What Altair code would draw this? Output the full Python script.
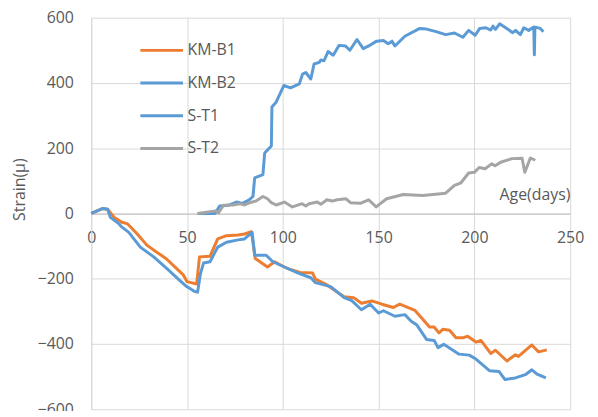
import altair as alt
import pandas as pd

series_names = ["KM-B1", "KM-B2", "S-T1", "S-T2"]
series_colors = ["#ED7D31", "#5B9BD5", "#5B9BD5", "#A5A5A5"]

kmb1_x = [0, 5.8, 8.5, 12, 16, 19, 24, 29, 34, 39, 44.6, 48, 50, 55, 56.5, 62, 66, 70.6, 76.7, 80, 83.6,
          85.6, 92, 95.7, 100.8, 102.6, 109, 115.5, 117, 123, 132, 137, 141, 146.5, 151.7, 157.7, 161, 169,
          176.6, 179, 181.5, 183.5, 187, 190.4, 194, 196.5, 200.8, 203.4, 208.5, 211, 217, 221.4, 223, 230,
          233.5, 237.8]
kmb1_y = [0, 15, 13, -12, -27, -32, -63, -97, -118, -138, -169, -188, -209, -216, -133, -131, -78, -68, -66,
          -63, -56, -138, -164, -148, -164, -169, -181, -182, -201, -219, -255, -258, -275, -268, -278, -288,
          -278, -297, -348, -348, -366, -355, -358, -381, -381, -376, -394, -389, -429, -419, -452, -433, -438,
          -403, -424, -418]

kmb2_x = [0, 5.8, 8.5, 10, 14.5, 16, 19.6, 25.6, 32.6, 39.5, 46, 49.8, 54, 55.5, 57, 58.6, 62, 66, 70.6,
          76.7, 80, 84, 85.3, 91.3, 94.8, 100.8, 107.7, 114.6, 117, 125, 132, 136, 141, 145.6, 150, 152.5,
          158.5, 163.7, 167, 170, 175, 179, 181, 184, 192, 197.3, 200.8, 208, 212.8, 216, 221.4, 226.6, 230,
          232.7, 237.3]
kmb2_y = [0, 15, 13, -12, -32, -42, -58, -103, -133, -169, -204, -224, -239, -241, -184, -152, -148, -103,
          -88, -81, -78, -58, -128, -128, -148, -164, -182, -197, -212, -224, -258, -267, -295, -278, -305,
          -298, -315, -310, -330, -342, -386, -389, -411, -401, -431, -434, -446, -482, -484, -509, -504,
          -494, -479, -492, -504]

st1_x = [55.5, 64.6, 67, 71.5, 75.8, 79, 82.7, 84.4, 85.3, 89.6, 90.5, 94, 94.3, 96.5, 100.5, 104, 108.6,
         110.3, 112, 114.6, 116.3, 119, 119.8, 121.5, 123.6, 126.3, 129.3, 132.7, 135, 138.7, 142, 145.6,
         149, 152.5, 155, 157, 158.5, 163.7, 171.5, 175, 180, 185, 189.6, 194, 197, 200.4, 202.8, 206,
         208.5, 209.7, 211, 213.2, 216.3, 220, 221.5, 224, 225.8, 228.3, 231, 231.3, 231.6, 234.4, 236]
st1_y = [0, 0, 23, 25, 35, 31, 43, 52, 109, 119, 185, 207, 326, 341, 392, 385, 397, 427, 432, 412, 458,
         463, 470, 468, 496, 485, 515, 513, 500, 533, 505, 516, 528, 530, 520, 528, 513, 543, 567, 565,
         557, 548, 553, 540, 561, 546, 567, 569, 562, 574, 564, 581, 569, 554, 561, 548, 569, 561, 571,
         486, 571, 567, 557]

st2_x = [55.5, 65, 66.5, 69, 74, 77.5, 80, 82.7, 86, 89.6, 92, 94, 96.5, 100.8, 105, 110, 112, 113.7, 118,
         119.8, 123, 125.8, 128.4, 133, 135.3, 140.4, 144.8, 148.7, 154.2, 162.9, 173, 185, 189.6, 193,
         197, 200, 202.5, 205.6, 209, 210.8, 213.7, 219.7, 224.9, 226.3, 229.2, 231.8]
st2_y = [0, 8, 2, 25, 26, 30, 26, 33, 38, 52, 45, 33, 26, 35, 20, 30, 23, 30, 35, 28, 42, 38, 42, 45, 33,
         31, 42, 20, 45, 58, 55, 62, 86, 94, 124, 126, 141, 137, 152, 146, 157, 168, 169, 126, 170, 163]

x_ticks = [0, 50, 100, 150, 200, 250]
y_ticks = [-600, -400, -200, 0, 200, 400, 600]

rows = []
for name, xs, ys in zip(series_names, [kmb1_x, kmb2_x, st1_x, st2_x], [kmb1_y, kmb2_y, st1_y, st2_y]):
    for i, (a, b) in enumerate(zip(xs, ys)):
        rows.append({"series": name, "age": a, "strain": b, "idx": i})
df = pd.DataFrame(rows)

FONT = "Open Sans"
TXT = "#595959"
GRID = "#D9D9D9"

chart = alt.Chart(df).mark_line(strokeWidth=3, strokeJoin="round").encode(
    x=alt.X("age:Q",
            scale=alt.Scale(domain=[0, 250], nice=False, zero=False),
            axis=alt.Axis(values=x_ticks, title="Age(days)", offset=-197.5, grid=True,
                          gridColor=GRID, domainColor="#BFBFBF", domainWidth=1, ticks=False,
                          labelPadding=16, labelFontSize=16, labelFont=FONT, labelColor=TXT,
                          labelFlush=False,
                          titleX=447, titleY=-19, titleFontSize=16, titleFont=FONT,
                          titleFontWeight="normal", titleColor=TXT, titleAlign="center",
                          titleBaseline="middle")),
    y=alt.Y("strain:Q",
            scale=alt.Scale(domain=[-600, 600], nice=False),
            axis=alt.Axis(values=y_ticks, title="Strain(μ)", grid=True, gridColor=GRID,
                          domainColor=GRID, ticks=False, labelPadding=18, labelFontSize=16,
                          labelFont=FONT, labelColor=TXT, labelFlush=False,
                          titleX=-72, titleY=173, titleAngle=-90, titleFontSize=16, titleFont=FONT,
                          titleFontWeight="normal", titleColor=TXT, titleAlign="center",
                          titleBaseline="middle")),
    color=alt.Color("series:N",
                    scale=alt.Scale(domain=series_names, range=series_colors),
                    legend=alt.Legend(orient="none", legendX=48, legendY=10, title=None,
                                      symbolType="stroke", symbolStrokeWidth=3, symbolSize=1849,
                                      labelFontSize=16, labelFont=FONT, labelColor=TXT,
                                      labelOffset=3, padding=0, rowPadding=2)),
    order=alt.Order("idx:Q"),
).properties(
    width=483, height=395,
    autosize=alt.AutoSizeParams(type="none"),
    padding={"left": 84, "top": 8, "right": 20, "bottom": 0},
).configure_view(stroke=None)

chart.save("out.html", embed_options={"renderer": "svg", "actions": False})
